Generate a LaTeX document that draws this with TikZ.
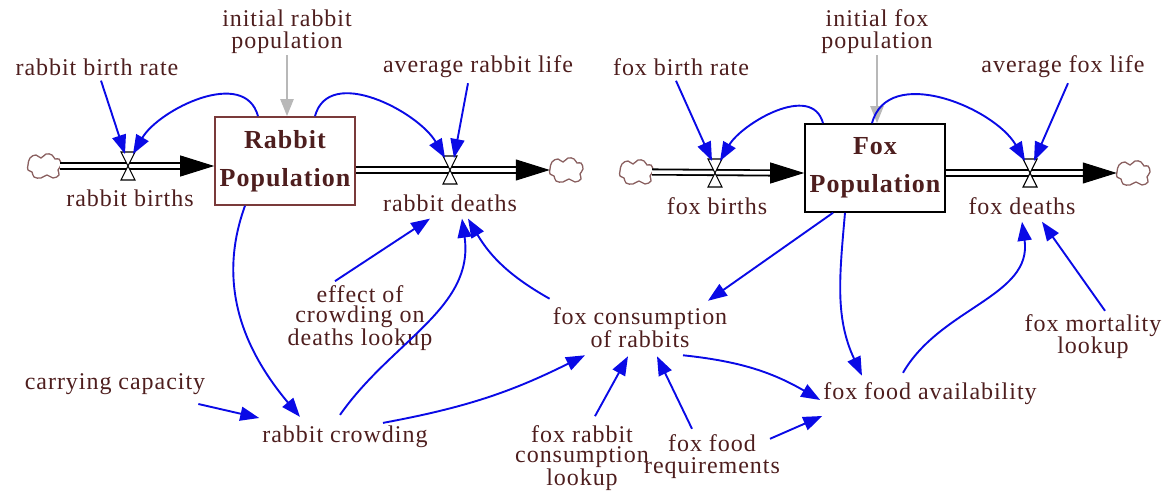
\documentclass[tikz,border=0pt]{standalone}
\usepackage{fontspec}
\setmainfont[LetterSpace=4]{Liberation Serif}
\usetikzlibrary{arrows.meta,calc}
\definecolor{txt}{HTML}{4E1E1E}
\definecolor{rboxc}{HTML}{7A3A3A}
\definecolor{cloudc}{HTML}{8A6060}
\definecolor{lnk}{HTML}{0A0AE6}
\begin{document}
\begin{tikzpicture}[x=1pt,y=1pt,
 lbl/.style={text=txt, font=\fontsize{24}{22}\selectfont, align=center, inner sep=1pt},
 tight/.style={font=\fontsize{24}{20.5}\selectfont},
 stock/.style={draw, line width=1.6pt, text=txt, font=\fontsize{26}{38}\selectfont\bfseries, align=center, minimum width=140pt, minimum height=88pt, inner sep=0},
 link/.style={draw=lnk, line width=1.9pt, -{Triangle[length=19pt,width=14pt]}},
 graylink/.style={draw=black!28, line width=2pt, -{Triangle[length=17pt,width=13pt]}},
 pipe/.style={draw=black, double=white, double distance=3.5pt, line width=1.8pt},
 ptip/.style={-{Triangle[length=34pt,width=21pt]}, line width=1pt, draw=black},
 cloudn/.style={inner sep=0, minimum width=32pt, minimum height=24pt},
 cloudpic/.pic={\draw[cloudc, line width=1.3pt, fill=white] plot[smooth cycle, tension=0.75] coordinates {(-16,1) (-14,8) (-8,11) (-3,8) (2,12) (8,11) (11,7) (15,7) (17,1) (14,-4) (15,-9) (9,-12) (3,-9) (-3,-12) (-10,-11) (-12,-6) (-16,-4)};},
 valve/.style={draw=black, fill=white, line width=1.1pt},
]
\useasboundingbox (0,0) rectangle (1165,-492);

% ---------- Rabbit stock ----------
\node[stock, draw=rboxc] (rpop) at (285,-161) {Rabbit\\Population};
\node[cloudn] (cl1) at (44,-166) {};
\node[cloudn] (cl2) at (566,-170) {};
\pic at (cl1.center) {cloudpic};
\pic at (cl2.center) {cloudpic};
\coordinate (vrb) at (128,-166);
\coordinate (vrd) at (450,-170);
\draw[pipe] (cl1.east) -- ($(vrb -| rpop.west)+(-30,0)$);
\draw[ptip] ($(vrb -| rpop.west)+(-34,0)$) -- (vrb -| rpop.west);
\draw[pipe] (vrd -| rpop.east) -- ($(vrd -| cl2.west)+(-30,0)$);
\draw[ptip] ($(vrd -| cl2.west)+(-34,0)$) -- (vrd -| cl2.west);
\draw[valve] ($(vrb)+(-7,14)$) -- ($(vrb)+(7,14)$) -- ($(vrb)+(-7,-14)$) -- ($(vrb)+(7,-14)$) -- cycle;
\draw[valve] ($(vrd)+(-7,14)$) -- ($(vrd)+(7,14)$) -- ($(vrd)+(-7,-14)$) -- ($(vrd)+(7,-14)$) -- cycle;

\node[lbl] (rbirths) at (130,-198) {rabbit births};
\node[lbl] (rdeaths) at (450,-203) {rabbit deaths};
\node[lbl] (rbr) at (97,-67) {rabbit birth rate};
\node[lbl] (arl) at (478,-67) {average rabbit life};
\node[lbl] (irp) at (287,-32) {initial rabbit\\population};

\draw[graylink] (irp.south) -- (irp.south |- rpop.north);
\draw[link] ($(rbr.south)+(4,-4)$) -- ($(vrb)+(-3,12)$);
\draw[link] ($(rpop.north)+(-27,0)$) to[out=105,in=60] ($(vrb)+(5,12)$);
\draw[link] ($(rpop.north)+(30,0)$) to[out=75,in=120] ($(vrd)+(-5,12)$);
\draw[link] ($(arl.south)+(-10,-4)$) -- ($(vrd)+(4,12)$);

% ---------- Fox stock ----------
\node[stock, draw=black] (fpop) at (875,-168) {Fox\\Population};
\node[cloudn] (cl3) at (636,-172) {};
\node[cloudn] (cl4) at (1133,-173) {};
\pic at (cl3.center) {cloudpic};
\pic at (cl4.center) {cloudpic};
\coordinate (vfb) at (715,-173);
\coordinate (vfd) at (1030,-173);
\draw[pipe] (cl3.east) -- ($(vfb -| fpop.west)+(-30,0)$);
\draw[ptip] ($(vfb -| fpop.west)+(-34,0)$) -- (vfb -| fpop.west);
\draw[pipe] (vfd -| fpop.east) -- ($(vfd -| cl4.west)+(-30,0)$);
\draw[ptip] ($(vfd -| cl4.west)+(-34,0)$) -- (vfd -| cl4.west);
\draw[valve] ($(vfb)+(-7,14)$) -- ($(vfb)+(7,14)$) -- ($(vfb)+(-7,-14)$) -- ($(vfb)+(7,-14)$) -- cycle;
\draw[valve] ($(vfd)+(-7,14)$) -- ($(vfd)+(7,14)$) -- ($(vfd)+(-7,-14)$) -- ($(vfd)+(7,-14)$) -- cycle;

\node[lbl] (fbirths) at (717,-206) {fox births};
\node[lbl] (fdeaths) at (1022,-206) {fox deaths};
\node[lbl] (fbr) at (681,-67) {fox birth rate};
\node[lbl] (afl) at (1063,-67) {average fox life};
\node[lbl] (ifp) at (877,-32) {initial fox\\population};

\draw[graylink] (ifp.south) -- (ifp.south |- fpop.north);
\draw[link] ($(fbr.south)+(-5,-4)$) -- ($(vfb)+(-3,12)$);
\draw[link] ($(fpop.north)+(-52,0)$) to[out=105,in=60] ($(vfb)+(5,12)$);
\draw[link] ($(fpop.north)+(-3,0)$) to[out=75,in=120] ($(vfd)+(-5,12)$);
\draw[link] ($(afl.south)+(5,-4)$) -- ($(vfd)+(4,12)$);

% ---------- Auxiliaries ----------
\node[lbl, tight] (eff) at (360,-318) {effect of\\crowding on\\deaths lookup};
\node[lbl] (cc) at (115,-384) {carrying capacity};
\node[lbl] (rc) at (345,-437) {rabbit crowding};
\node[lbl] (fcr) at (640,-328) {fox consumption\\of rabbits};
\node[lbl, tight] (rcl) at (582,-458) {fox rabbit\\consumption\\lookup};
\node[lbl] (ffr) at (712,-457) {fox food\\requirements};
\node[lbl] (ffa) at (930,-394) {fox food availability};
\node[lbl] (fml) at (1093,-337) {fox mortality\\lookup};

\draw[link] ($(rpop.south)+(-40,0)$) to[out=-110,in=130] ($(rc.north)+(-45,8)$);
\draw[link] ($(rc.north)+(-5,10)$) to[out=55,in=-82] ($(rdeaths.south)+(12,-6)$);
\draw[link] ($(eff.north)+(-25,3)$) -- ($(rdeaths.south)+(-20,-6)$);
\draw[link] ($(fcr.north west)+(-2,8)$) to[bend left=15] ($(rdeaths.south)+(18,-6)$);
\draw[link] ($(rc.north)+(38,2)$) to[bend right=8] ($(fcr.south)+(-55,-6)$);
\draw[link] ($(cc.east)+(-8,-20)$) -- ($(rc.west)+(-2,19)$);

\draw[link] ($(fpop.south)+(-42,0)$) -- ($(fcr.north)+(68,6)$);
\draw[link] ($(fpop.south)+(-30,0)$) to[out=-95,in=115] ($(ffa.north)+(-68,6)$);
\draw[link] ($(fcr.south)+(43,-6)$) to[bend left=12] ($(ffa.west)+(-2,-6)$);
\draw[link] ($(ffr.north)+(58,-5)$) -- ($(ffa.west)+(0,-22)$);
\draw[link] ($(ffa.north)+(-27,9)$) to[out=60,in=-82] ($(fdeaths.south)+(0,-6)$);
\draw[link] ($(fml.north)+(12,3)$) -- ($(fdeaths.south)+(20,-6)$);
\draw[link] ($(rcl.north)+(13,8)$) -- ($(fcr.south)+(-12,-7)$);
\draw[link] ($(ffr.north)+(-20,5)$) -- ($(fcr.south)+(17,-7)$);
\end{tikzpicture}
\end{document}
